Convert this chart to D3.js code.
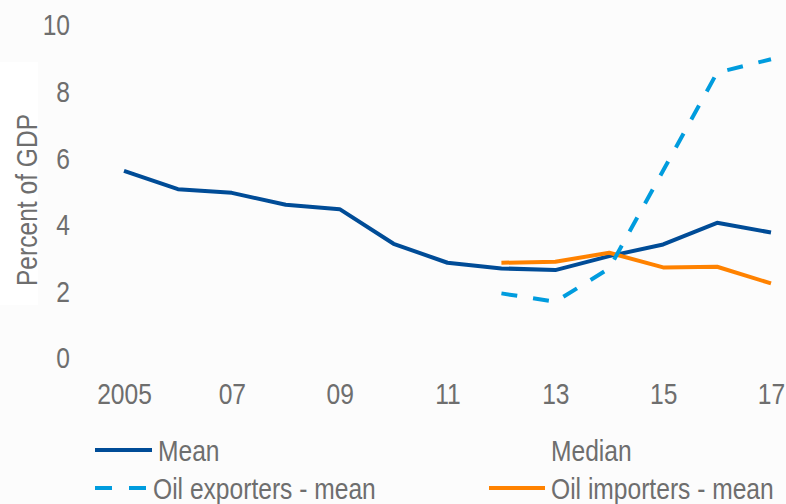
<!DOCTYPE html>
<html>
<head>
<meta charset="utf-8">
<script src="https://cdn.jsdelivr.net/npm/d3@7"></script>
<style>
  html, body { margin: 0; padding: 0; background: #fcfcfc; }
  svg { display: block; }
  text { font-family: "Liberation Sans", Arial, sans-serif; fill: #6e6e6e; }
</style>
</head>
<body>
<svg id="chart" width="786" height="504"></svg>
<script>
// ---- data ----
const years = [2005, 2006, 2007, 2008, 2009, 2010, 2011, 2012, 2013, 2014, 2015, 2016, 2017];
const meanValues = [5.59, 5.04, 4.93, 4.57, 4.44, 3.40, 2.83, 2.66, 2.61, 3.03, 3.38, 4.03, 3.74];
const exporterYears = [2012, 2013, 2014, 2015, 2016, 2017];
const exporterValues = [1.91, 1.66, 2.66, 5.60, 8.54, 8.94];
const importerYears = [2012, 2013, 2014, 2015, 2016, 2017];
const importerValues = [2.83, 2.86, 3.13, 2.69, 2.71, 2.21];
const xTickValues = [2005, 2007, 2009, 2011, 2013, 2015, 2017];
const xTickLabels = ["2005", "07", "09", "11", "13", "15", "17"];
const yTickValues = [0, 2, 4, 6, 8, 10];
const yTitle = "Percent of GDP";
const legendLabels = ["Mean", "Median", "Oil exporters - mean", "Oil importers - mean"];

// ---- drawing ----
const svg = d3.select("#chart");
const x = d3.scaleLinear().domain([2005, 2017]).range([124, 771]);
const y = d3.scaleLinear().domain([0, 10]).range([357, 24]);
const narrow = "scale(0.82,1)";
const fontSize = 30;
const textColor = "#6e6e6e";

svg.append("rect").attr("x", 0).attr("y", 0).attr("width", 786).attr("height", 504).attr("fill", "#fcfcfc");
svg.append("rect").attr("x", 0).attr("y", 62).attr("width", 38).attr("height", 243).attr("fill", "#ffffff");

// x axis
const gx = svg.append("g").attr("transform", "translate(0,383)")
  .call(d3.axisBottom(x).tickValues(xTickValues)
    .tickFormat((d, i) => xTickLabels[i]).tickSize(0).tickPadding(0));
gx.select(".domain").remove();
gx.attr("font-family", null).attr("font-size", null);
gx.selectAll("text").attr("font-size", fontSize).attr("fill", textColor).attr("transform", narrow);

// y axis
const gy = svg.append("g").attr("transform", "translate(70,0)")
  .call(d3.axisLeft(y).tickValues(yTickValues).tickFormat(d3.format("d")).tickSize(0).tickPadding(0));
gy.select(".domain").remove();
gy.attr("font-family", null).attr("font-size", null);
gy.selectAll("text").attr("font-size", fontSize).attr("fill", textColor).attr("dy", "0.36em").attr("transform", narrow);

// y title
svg.append("text")
  .attr("transform", "translate(37,200) rotate(-90) " + narrow)
  .attr("text-anchor", "middle")
  .attr("font-size", fontSize)
  .text(yTitle);

const line = d3.line().x(d => x(d[0])).y(d => y(d[1]));

svg.append("path")
  .datum(years.map((yr, i) => [yr, meanValues[i]]))
  .attr("d", line).attr("fill", "none")
  .attr("stroke", "#004c97").attr("stroke-width", 4).attr("stroke-linejoin", "round");

svg.append("path")
  .datum(importerYears.map((yr, i) => [yr, importerValues[i]]))
  .attr("d", line).attr("fill", "none")
  .attr("stroke", "#ff8200").attr("stroke-width", 4).attr("stroke-linejoin", "round");

svg.append("path")
  .datum(exporterYears.map((yr, i) => [yr, exporterValues[i]]))
  .attr("d", line).attr("fill", "none")
  .attr("stroke", "#009cde").attr("stroke-width", 4).attr("stroke-dasharray", "16,16")
  .attr("stroke-linejoin", "round");

// legend
const legendItems = [
  { label: legendLabels[0], x1: 95, x2: 152, ly: 450, color: "#004c97", dash: null },
  { label: legendLabels[1], x1: 495, x2: 545, ly: 450, color: "none", dash: null },
  { label: legendLabels[2], x1: 95, x2: 147, ly: 488, color: "#009cde", dash: "17,17" },
  { label: legendLabels[3], x1: 489, x2: 545, ly: 488, color: "#ff8200", dash: null }
];
const lg = svg.append("g");
legendItems.forEach(it => {
  if (it.color !== "none") {
    lg.append("line").attr("x1", it.x1).attr("x2", it.x2).attr("y1", it.ly).attr("y2", it.ly)
      .attr("stroke", it.color).attr("stroke-width", 4)
      .attr("stroke-dasharray", it.dash);
  }
  lg.append("text")
    .attr("transform", `translate(${it.x2 + 6},${it.ly + 10.5}) ${narrow}`)
    .attr("font-size", fontSize).text(it.label);
});
</script>
</body>
</html>
